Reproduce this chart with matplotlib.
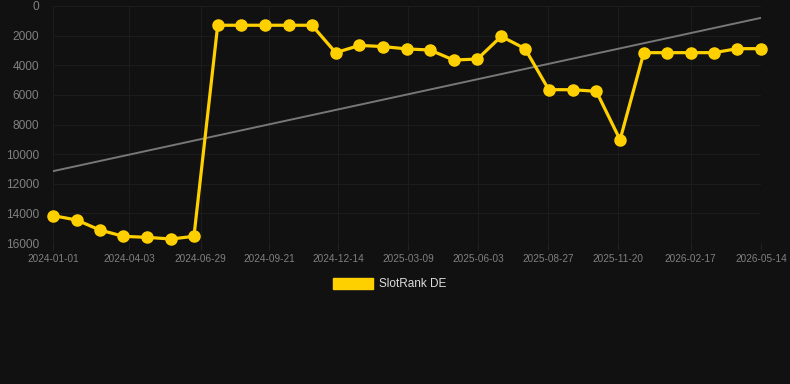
import pandas as pd
import matplotlib.pyplot as plt
from matplotlib.patches import Patch

# data (rank, lower is better)
dates = ['2024-01-01', '2024-01-30', '2024-02-27', '2024-03-27', '2024-04-25',
         '2024-05-24', '2024-06-21', '2024-07-20', '2024-08-18', '2024-09-16',
         '2024-10-15', '2024-11-12', '2024-12-11', '2025-01-09', '2025-02-07',
         '2025-03-08', '2025-04-05', '2025-05-04', '2025-06-02', '2025-07-01',
         '2025-07-30', '2025-08-28', '2025-09-26', '2025-10-25', '2025-11-23',
         '2025-12-22', '2026-01-19', '2026-02-17', '2026-03-18', '2026-04-15',
         '2026-05-14']
ranks = [14150, 14450, 15120, 15550, 15620, 15730, 15550, 1300, 1300, 1300,
         1300, 1300, 3150, 2660, 2740, 2900, 2970, 3650, 3580, 2050,
         2880, 5650, 5650, 5760, 9030, 3150, 3150, 3150, 3150, 2880,
         2880]
trend_dates = ['2024-01-01', '2026-05-14']
trend_vals = [11150, 800]
tick_labels = ['2024-01-01', '2024-04-03', '2024-06-29', '2024-09-21', '2024-12-14',
               '2025-03-09', '2025-06-03', '2025-08-27', '2025-11-20', '2026-02-17',
               '2026-05-14']
y_ticks = [0, 2000, 4000, 6000, 8000, 10000, 12000, 14000, 16000]

plt.rcParams['font.family'] = ['Liberation Sans', 'DejaVu Sans']

bg = '#111111'
gold = '#ffd000'

fig = plt.figure(figsize=(7.9, 3.84), dpi=100, facecolor=bg)
ax = fig.add_axes([53 / 790, 1 - 243 / 384, (761 - 53) / 790, (243 - 6) / 384])
ax.set_facecolor(bg)

x = pd.to_datetime(dates)
ax.plot(pd.to_datetime(trend_dates), trend_vals, color='#777777', lw=1.4, zorder=2)
ax.plot(x, ranks, color=gold, lw=2.3, marker='o', markersize=8,
        markerfacecolor=gold, markeredgecolor=gold, clip_on=False, zorder=3)

ax.set_xlim(pd.Timestamp('2024-01-01'), pd.Timestamp('2026-05-14'))
ax.set_ylim(16000, 0)
ax.set_yticks(y_ticks)
ax.set_yticklabels([str(v) for v in y_ticks])
ax.set_xticks(pd.to_datetime(tick_labels))
ax.set_xticklabels(tick_labels)

ax.grid(True, color='#1c1c1c', lw=0.8)
ax.set_axisbelow(True)
for s in ax.spines.values():
    s.set_visible(False)
ax.axhline(16000, color='#262626', lw=0.8, zorder=1)

ax.tick_params(axis='y', length=0, pad=10, labelsize=8.6, labelcolor='#808080')
ax.tick_params(axis='x', length=5, color='#222222', pad=3, labelsize=7.2,
               labelcolor='#808080')

handle = Patch(facecolor=gold, edgecolor=gold)
fig.legend([handle], ['SlotRank DE'], loc='center', bbox_to_anchor=(0.493, 0.26),
           frameon=False, fontsize=8.5, labelcolor='#dddddd',
           handlelength=3.4, handleheight=1.0, handletextpad=0.5)

fig.savefig('out.png', dpi=100, facecolor=bg)
